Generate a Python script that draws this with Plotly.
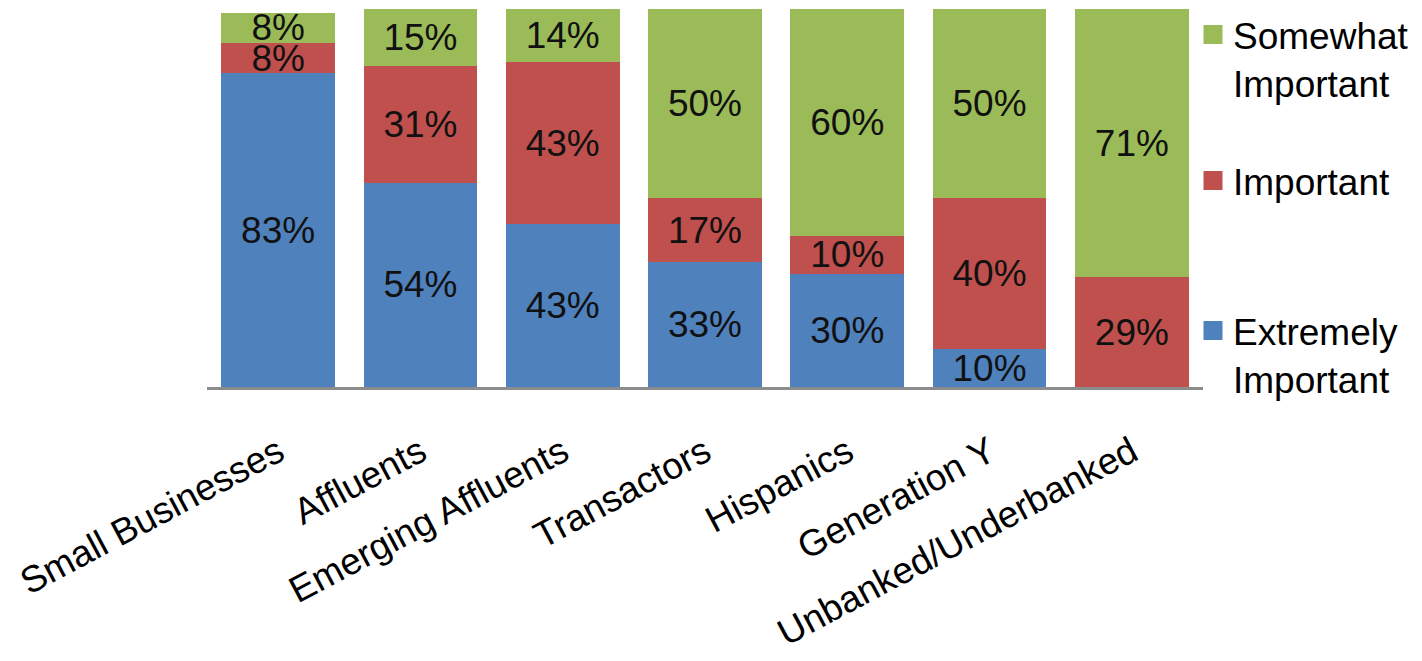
import plotly.graph_objects as go

categories = ["Small Businesses", "Affluents", "Emerging Affluents", "Transactors",
              "Hispanics", "Generation Y", "Unbanked/Underbanked"]
extremely = [83, 54, 43, 33, 30, 10, 0]
important = [8, 31, 43, 17, 10, 40, 29]
somewhat = [8, 15, 14, 50, 60, 50, 71]

series = [
    ("Extremely<br>Important", extremely, "#4F81BD", "legend3"),
    ("Important", important, "#C0504D", "legend2"),
    ("Somewhat<br>Important", somewhat, "#9BBB59", "legend"),
]

FONT = "Liberation Sans, Arial, sans-serif"
fig = go.Figure()
for name, vals, color, lg in series:
    fig.add_trace(go.Bar(
        x=categories, y=vals, name=name, marker=dict(color=color, line=dict(width=0)),
        text=[f"{v}%" if v else "" for v in vals], textposition="inside",
        insidetextanchor="middle", textangle=0, constraintext="none",
        textfont=dict(family=FONT, size=37, color="#111111"),
        showlegend=False, hoverinfo="skip"))
    fig.add_trace(go.Scatter(
        x=[None], y=[None], mode="markers", name=name, legend=lg,
        marker=dict(symbol="square", size=16, color=color, line=dict(color=color, width=3)),
        showlegend=True))

W, H = 1422, 661
L, R, T, B = 207, 219, 9, 274
pw, ph = W - L - R, H - T - B

def px_x(x):
    return (x - L) / pw

def px_y(y):
    return (H - B - y) / ph

leg_common = dict(xanchor="left", yanchor="top", bgcolor="rgba(0,0,0,0)", borderwidth=0,
                  font=dict(family=FONT, size=37, color="#000000"), valign="top",
                  itemclick=False, itemdoubleclick=False)

fig.update_layout(
    width=W, height=H, barmode="stack", bargap=0.2,
    margin=dict(l=L, r=R, t=T, b=B, pad=0, autoexpand=False),
    paper_bgcolor="white", plot_bgcolor="white",
    font=dict(family=FONT, size=37, color="#000000"),
    xaxis=dict(showline=True, linecolor="#8C8C8C", linewidth=3, ticks="", tickangle=-28,
               tickfont=dict(family=FONT, size=37, color="#000000"), showgrid=False,
               zeroline=False, ticklabelstandoff=26, automargin=False),
    yaxis=dict(range=[0, 100], showticklabels=False, showgrid=False, zeroline=False,
               showline=False, ticks="", automargin=False),
    legend=dict(x=px_x(1193), y=px_y(4), **leg_common),
    legend2=dict(x=px_x(1193), y=px_y(150), **leg_common),
    legend3=dict(x=px_x(1193), y=px_y(300), **leg_common),
)

fig.write_html("out.html")
